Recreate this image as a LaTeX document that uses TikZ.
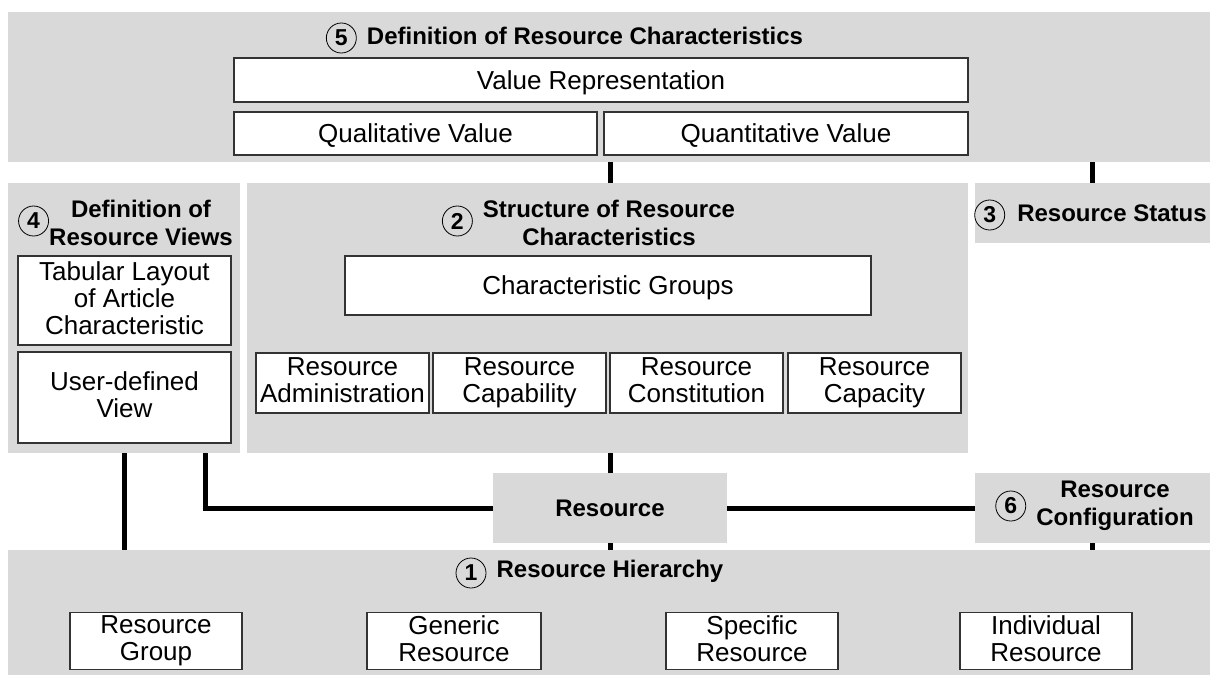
\documentclass[tikz,border=0pt]{standalone}
\usepackage{fontspec}
\setmainfont{Liberation Sans}
\usetikzlibrary{positioning}
\definecolor{panelgray}{RGB}{217,217,217}
\definecolor{edgegray}{RGB}{51,51,51}

\begin{document}
\begin{tikzpicture}[x=1pt, y=-1pt,
    panel/.style={fill=panelgray, inner sep=0pt, outer sep=0pt},
    box/.style={draw=edgegray, fill=white, line width=1.2pt, align=center,
                inner sep=0pt, font=\fontsize{26}{27}\selectfont,
                execute at begin node={\rule{0pt}{24.2pt}},
                execute at end node={\rule[-5.6pt]{0pt}{5.6pt}}},
    ttl/.style={align=center, inner sep=0pt, font=\fontsize{24}{28}\selectfont\bfseries},
    numc/.style={circle, draw, line width=0.8pt, minimum size=30pt, inner sep=0pt,
                 font=\fontsize{23}{23}\selectfont\bfseries},
    link/.style={line width=5pt}]
    \useasboundingbox (0,0) rectangle (1210,675);

    % panels
    \node[panel, minimum width=1202pt, minimum height=150pt] (p5) at (609,87) {};
    \node[panel, minimum width=232pt, minimum height=270pt] (p4) at (124,318) {};
    \node[panel, minimum width=721pt, minimum height=270pt] (p2) at (607.5,318) {};
    \node[panel, minimum width=235pt, minimum height=60pt] (p3) at (1092.5,213) {};
    \node[panel, minimum width=234pt, minimum height=70pt] (res) at (610,508) {};
    \node[panel, minimum width=235pt, minimum height=70pt] (p6) at (1092.5,508) {};
    \node[panel, minimum width=1202pt, minimum height=125pt] (p1) at (609,612.5) {};

    % 5 - characteristics definition
    \node[ttl] (t5) at (585,36) {Definition of Resource Characteristics};
    \node[numc, left=10pt of t5, yshift=-2pt] (n5) {5};
    \node[box, minimum width=734pt, minimum height=44pt] (valrep) at (601,80) {Value Representation};
    \node[box, minimum width=363pt, minimum height=43pt] (qual) at (415.5,133.5) {Qualitative Value};
    \node[box, minimum width=364pt, minimum height=43pt] (quant) at (786,133.5) {Quantitative Value};

    % 4 - views
    \node[ttl] (t4) at (141,223) {Definition of\\Resource Views};
    \node[numc, left=0pt of t4, yshift=2pt] (n4) {4};
    \node[box, minimum width=213pt, minimum height=89pt] (tab) at (124.5,300.5)
          {Tabular Layout\\of Article\\Characteristic};
    \node[box, minimum width=213pt, minimum height=91pt] (user) at (124.5,397.5)
          {User-defined\\View};

    % 2 - structure
    \node[ttl] (t2) at (609,223) {Structure of Resource\\Characteristics};
    \node[numc, left=10pt of t2, yshift=2pt] (n2) {2};
    \node[box, minimum width=526pt, minimum height=59pt] (cgroups) at (608,285.5) {Characteristic Groups};
    \node[box, minimum width=173pt, minimum height=60pt] (admin) at (342.5,383) {Resource\\Administration};
    \node[box, minimum width=173pt, minimum height=60pt] (capab) at (519.5,383) {Resource\\Capability};
    \node[box, minimum width=173pt, minimum height=60pt] (constit) at (696.5,383) {Resource\\Constitution};
    \node[box, minimum width=173pt, minimum height=60pt] (capac) at (874.5,383) {Resource\\Capacity};

    % 3 - status
    \node[ttl] (t3) at (1112,213) {Resource Status};
    \node[numc, left=12pt of t3, yshift=-2pt] (n3) {3};

    % resource and 6 - configuration
    \node[ttl] (tres) at (res) {Resource};
    \node[ttl] (t6) at (1115,506) {Resource\\Configuration};
    \node[numc, left=10pt of t6] (n6) {6};

    % 1 - hierarchy
    \node[ttl] (t1) at (610,571) {Resource Hierarchy};
    \node[numc, left=10pt of t1, yshift=-2pt] (n1) {1};
    \node[box, minimum width=172pt, minimum height=57pt] (rgroup) at (156,641) {Resource\\Group};
    \node[box, minimum width=174pt, minimum height=57pt] (generic) at (454,641) {Generic\\Resource};
    \node[box, minimum width=172pt, minimum height=57pt] (specific) at (752,641) {Specific\\Resource};
    \node[box, minimum width=172pt, minimum height=57pt] (indiv) at (1046,641) {Individual\\Resource};

    % connectors
    \draw[link] (p5.south -| res) -- (p2.north -| res);
    \draw[link] (p5.south -| p3) -- (p3.north);
    \draw[link] (p2.south -| res) -- (res.north);
    \draw[link] (res.south) -- (res.south |- p1.north);
    \draw[link] (p6.south) -- (p6.south |- p1.north);
    \draw[link] (p4.south) -- (p4.south |- p1.north);
    \draw[link] (res.west) -| ([xshift=-35pt]p4.south east);
    \draw[link] (res.east) -- (p6.west);
\end{tikzpicture}
\end{document}
